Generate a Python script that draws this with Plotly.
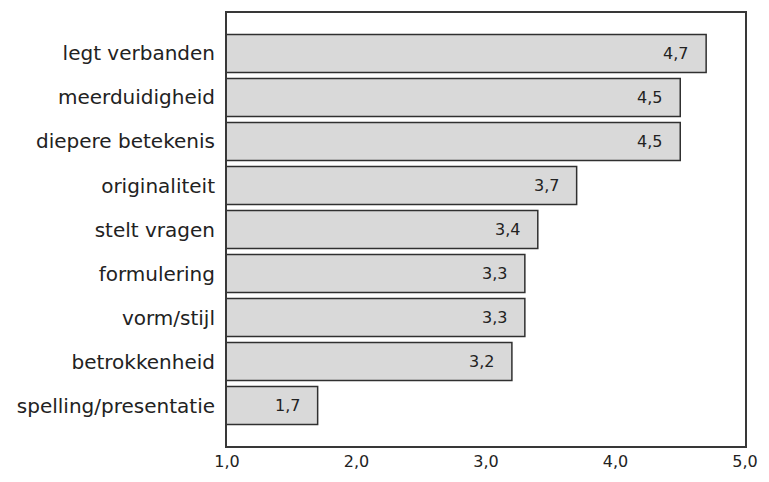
import plotly.graph_objects as go

# Mean scores per criterion (scale 1-5)
criteria = [
    "legt verbanden",
    "meerduidigheid",
    "diepere betekenis",
    "originaliteit",
    "stelt vragen",
    "formulering",
    "vorm/stijl",
    "betrokkenheid",
    "spelling/presentatie",
]
scores = [4.7, 4.5, 4.5, 3.7, 3.4, 3.3, 3.3, 3.2, 1.7]
x_ticks = [1.0, 2.0, 3.0, 4.0, 5.0]


def fmt(v):
    return f"{v:.1f}".replace(".", ",")


font_family = "DejaVu Sans, Verdana, sans-serif"

fig = go.Figure()
fig.add_trace(
    go.Bar(
        x=scores,
        y=criteria,
        orientation="h",
        marker=dict(color="#d9d9d9", line=dict(color="#303030", width=1.5)),
        hoverinfo="x+y",
    )
)

# value labels placed inside each bar, just left of its end
for name, v in zip(criteria, scores):
    fig.add_annotation(
        x=v,
        y=name,
        text=fmt(v),
        showarrow=False,
        xanchor="right",
        xshift=-16,
        font=dict(family=font_family, size=16, color="#222222"),
    )

fig.update_layout(
    width=769,
    height=482,
    margin=dict(l=227, r=11, t=12, b=25),
    paper_bgcolor="white",
    plot_bgcolor="white",
    bargap=0.14,
    showlegend=False,
    font=dict(family=font_family, color="#222222"),
)

fig.update_xaxes(
    range=[x_ticks[0], x_ticks[-1]],
    tickvals=x_ticks,
    ticktext=[fmt(t) for t in x_ticks],
    tickfont=dict(size=16, color="#222222"),
    showgrid=False,
    zeroline=False,
    showline=True,
    mirror=True,
    linecolor="#383838",
    linewidth=2,
    ticks="",
)

fig.update_yaxes(
    categoryorder="array",
    categoryarray=criteria,
    range=[len(criteria) - 1 + 0.92, -0.92],
    tickfont=dict(size=20, color="#222222"),
    showgrid=False,
    zeroline=False,
    showline=True,
    mirror=True,
    linecolor="#383838",
    linewidth=2,
    ticks="",
    ticklabelstandoff=6,
)

fig.write_html("out.html")
